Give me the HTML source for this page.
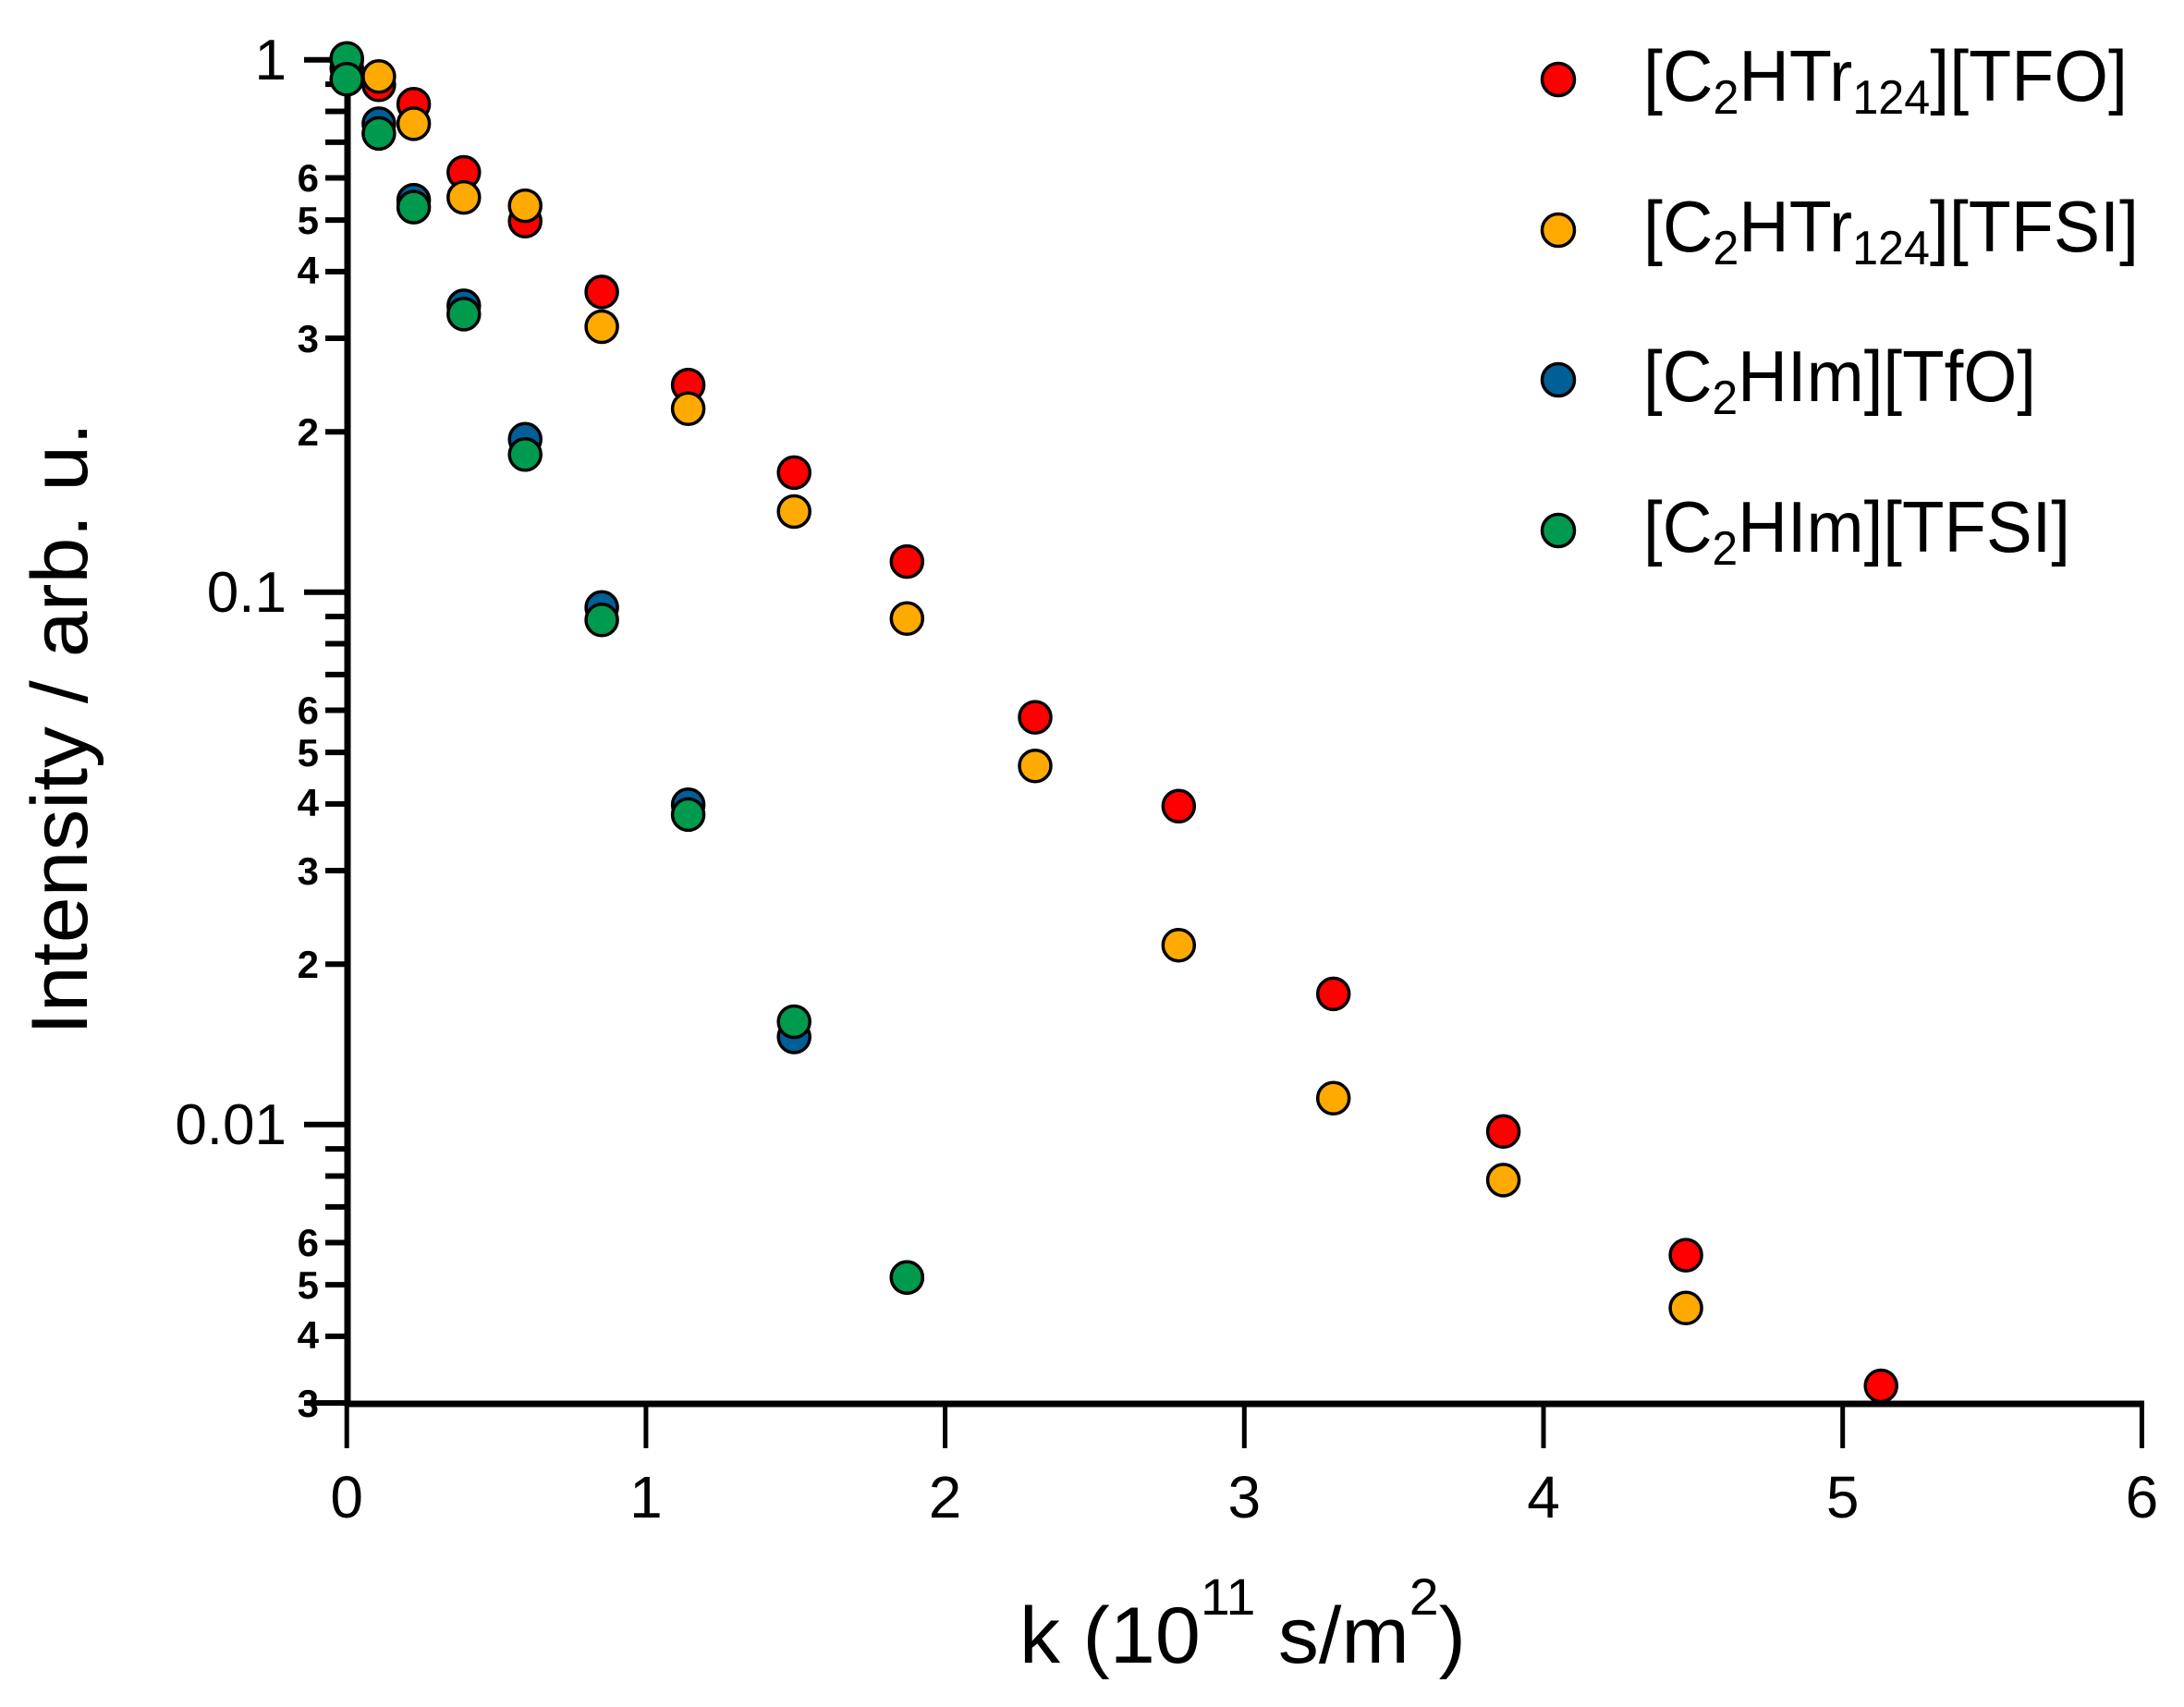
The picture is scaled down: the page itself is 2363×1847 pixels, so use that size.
<!DOCTYPE html>
<html><head><meta charset="utf-8"><style>html,body{margin:0;padding:0;background:#fff}svg{display:block}</style></head><body>
<svg width="2363" height="1847" viewBox="0 0 2363 1847" xmlns="http://www.w3.org/2000/svg" font-family="Liberation Sans, sans-serif">
<rect width="2363" height="1847" fill="#fff"/>
<g stroke="#000" stroke-width="7">
<line x1="376" y1="60" x2="376" y2="1522"/>
<line x1="373" y1="1519" x2="2320" y2="1519"/>
</g>
<g stroke="#000" stroke-width="6">
<line x1="329" y1="64.7" x2="376" y2="64.7"/>
<line x1="329" y1="640.7" x2="376" y2="640.7"/>
<line x1="329" y1="1216.7" x2="376" y2="1216.7"/>
<line x1="329" y1="1518" x2="376" y2="1518"/>
</g>
<g stroke="#000" stroke-width="6">
<line x1="352" y1="91.1" x2="376" y2="91.1"/><line x1="352" y1="120.5" x2="376" y2="120.5"/><line x1="352" y1="153.9" x2="376" y2="153.9"/><line x1="352" y1="192.5" x2="376" y2="192.5"/><line x1="352" y1="238.1" x2="376" y2="238.1"/><line x1="352" y1="293.9" x2="376" y2="293.9"/><line x1="352" y1="366" x2="376" y2="366"/><line x1="352" y1="467.3" x2="376" y2="467.3"/>
<line x1="352" y1="667.1" x2="376" y2="667.1"/><line x1="352" y1="696.5" x2="376" y2="696.5"/><line x1="352" y1="729.9" x2="376" y2="729.9"/><line x1="352" y1="768.5" x2="376" y2="768.5"/><line x1="352" y1="814.1" x2="376" y2="814.1"/><line x1="352" y1="869.9" x2="376" y2="869.9"/><line x1="352" y1="942" x2="376" y2="942"/><line x1="352" y1="1043.3" x2="376" y2="1043.3"/>
<line x1="352" y1="1243.1" x2="376" y2="1243.1"/><line x1="352" y1="1272.5" x2="376" y2="1272.5"/><line x1="352" y1="1305.9" x2="376" y2="1305.9"/><line x1="352" y1="1344.5" x2="376" y2="1344.5"/><line x1="352" y1="1390.1" x2="376" y2="1390.1"/><line x1="352" y1="1445.9" x2="376" y2="1445.9"/>
</g>
<g stroke="#000" stroke-width="5">
<line x1="375.2" y1="1519" x2="375.2" y2="1567"/><line x1="698.9" y1="1519" x2="698.9" y2="1567"/><line x1="1022.6" y1="1519" x2="1022.6" y2="1567"/><line x1="1346.3" y1="1519" x2="1346.3" y2="1567"/><line x1="1670" y1="1519" x2="1670" y2="1567"/><line x1="1993.7" y1="1519" x2="1993.7" y2="1567"/><line x1="2317.4" y1="1519" x2="2317.4" y2="1567"/>
</g>
<g font-size="64" text-anchor="middle" fill="#000">
<text x="375.2" y="1642">0</text><text x="698.9" y="1642">1</text><text x="1022.6" y="1642">2</text><text x="1346.3" y="1642">3</text><text x="1670" y="1642">4</text><text x="1993.7" y="1642">5</text><text x="2317.4" y="1642">6</text>
</g>
<g font-size="62" text-anchor="end" fill="#000">
<text x="310" y="86">1</text><text x="310" y="662">0.1</text><text x="310" y="1238">0.01</text>
</g>
<g font-size="42" font-weight="bold" text-anchor="end" fill="#000">
<text x="345" y="207">6</text><text x="345" y="253">5</text><text x="345" y="307">4</text><text x="345" y="381">3</text><text x="345" y="482">2</text>
<text x="345" y="783">6</text><text x="345" y="829">5</text><text x="345" y="883">4</text><text x="345" y="957">3</text><text x="345" y="1058">2</text>
<text x="345" y="1359">6</text><text x="345" y="1405">5</text><text x="345" y="1459">4</text><text x="345" y="1533">3</text>
</g>
<text transform="translate(94,1120) rotate(-90)" font-size="86" textLength="663" lengthAdjust="spacingAndGlyphs">Intensity / arb. u.</text>
<text x="1103" y="1799" font-size="86" textLength="483" lengthAdjust="spacingAndGlyphs">k (10<tspan dy="-52" font-size="56">11</tspan><tspan dy="52"> s/m</tspan><tspan dy="-52" font-size="56">2</tspan><tspan dy="52">)</tspan></text>
<g stroke="#000" stroke-width="3.5">
<g fill="#ff0000">
<circle cx="375.2" cy="64.7" r="17"/><circle cx="409.9" cy="91.8" r="17"/><circle cx="447.6" cy="112.8" r="17"/><circle cx="501.8" cy="186.5" r="17"/><circle cx="568.2" cy="239.2" r="17"/><circle cx="651.1" cy="315.9" r="17"/><circle cx="744.6" cy="416.6" r="17"/><circle cx="859.2" cy="511.4" r="17"/><circle cx="981.3" cy="607.6" r="17"/><circle cx="1120" cy="776.1" r="17"/><circle cx="1275.3" cy="872.3" r="17"/><circle cx="1442.7" cy="1075.4" r="17"/><circle cx="1626.6" cy="1224.3" r="17"/><circle cx="1824.1" cy="1358.1" r="17"/><circle cx="2035.2" cy="1499.5" r="17"/>
</g>
<g fill="#ffaa00">
<circle cx="409.9" cy="82.7" r="17"/><circle cx="447.6" cy="133.9" r="17"/><circle cx="501.8" cy="213.6" r="17"/><circle cx="568.2" cy="222.6" r="17"/><circle cx="651.1" cy="353.5" r="17"/><circle cx="744.6" cy="442.2" r="17"/><circle cx="859.2" cy="553.5" r="17"/><circle cx="981.3" cy="669.3" r="17"/><circle cx="1120" cy="828.7" r="17"/><circle cx="1275.3" cy="1022.7" r="17"/><circle cx="1442.7" cy="1188.2" r="17"/><circle cx="1626.6" cy="1276.9" r="17"/><circle cx="1824.1" cy="1415.3" r="17"/>
</g>
<g fill="#005f96">
<circle cx="375.2" cy="73.7" r="17"/><circle cx="409.9" cy="133.9" r="17"/><circle cx="447.6" cy="216.6" r="17"/><circle cx="501.8" cy="330.9" r="17"/><circle cx="568.2" cy="475.3" r="17"/><circle cx="651.1" cy="657.3" r="17"/><circle cx="744.6" cy="870.8" r="17"/><circle cx="859.2" cy="1122" r="17"/><circle cx="981.3" cy="1382.2" r="17"/>
</g>
<g fill="#009a4e">
<circle cx="375.2" cy="63.2" r="17"/><circle cx="375.2" cy="85.8" r="17"/><circle cx="409.9" cy="144.4" r="17"/><circle cx="447.6" cy="224.1" r="17"/><circle cx="501.8" cy="339.9" r="17"/><circle cx="568.2" cy="491.8" r="17"/><circle cx="651.1" cy="670.8" r="17"/><circle cx="744.6" cy="881.4" r="17"/><circle cx="859.2" cy="1105.5" r="17"/><circle cx="981.3" cy="1382.2" r="17"/>
</g>
<circle cx="1686" cy="86" r="17.5" fill="#ff0000"/>
<circle cx="1686" cy="249" r="17.5" fill="#ffaa00"/>
<circle cx="1686" cy="411" r="17.5" fill="#005f96"/>
<circle cx="1686" cy="574" r="17.5" fill="#009a4e"/>
</g>
<g font-size="78" fill="#000">
<text x="1778" y="109" textLength="524" lengthAdjust="spacingAndGlyphs">[C<tspan font-size="52" dy="14">2</tspan><tspan dy="-14">HTr</tspan><tspan font-size="52" dy="14">124</tspan><tspan dy="-14">][TFO]</tspan></text>
<text x="1778" y="272" textLength="536" lengthAdjust="spacingAndGlyphs">[C<tspan font-size="52" dy="14">2</tspan><tspan dy="-14">HTr</tspan><tspan font-size="52" dy="14">124</tspan><tspan dy="-14">][TFSI]</tspan></text>
<text x="1778" y="434" textLength="425" lengthAdjust="spacingAndGlyphs">[C<tspan font-size="52" dy="14">2</tspan><tspan dy="-14">HIm][TfO]</tspan></text>
<text x="1778" y="597" textLength="462" lengthAdjust="spacingAndGlyphs">[C<tspan font-size="52" dy="14">2</tspan><tspan dy="-14">HIm][TFSI]</tspan></text>
</g>
</svg>
</body></html>
